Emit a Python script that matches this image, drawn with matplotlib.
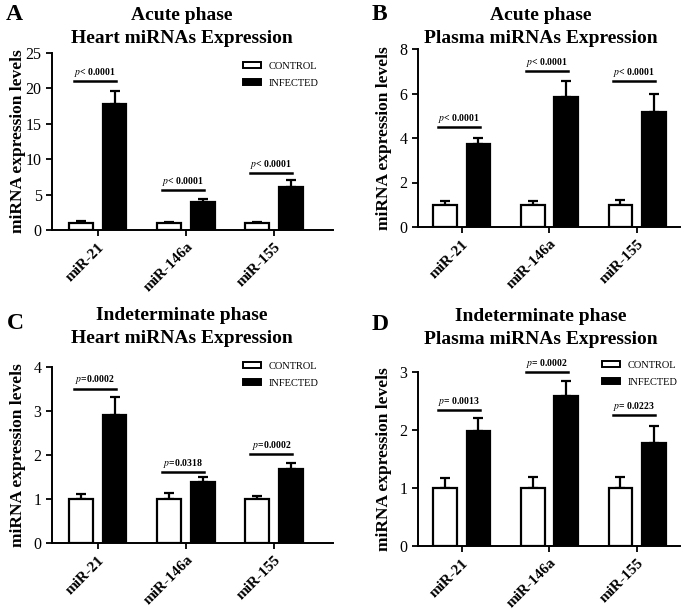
import numpy as np
import matplotlib
matplotlib.use('Agg')
import matplotlib.pyplot as plt
from matplotlib.patches import Patch

plt.rcParams['font.family'] = ['Liberation Serif', 'DejaVu Serif']
plt.rcParams['mathtext.fontset'] = 'stix'

# data
categories = ['miR-21', 'miR-146a', 'miR-155']

heart_acute_ctrl = [1.0, 1.0, 1.0]
heart_acute_ctrl_err = [0.3, 0.1, 0.1]
heart_acute_inf = [17.8, 4.0, 6.1]
heart_acute_inf_err = [1.9, 0.35, 0.9]
heart_acute_sig = [21.1, 5.7, 8.1]
heart_acute_p = ['< 0.0001', '< 0.0001', '< 0.0001']

plasma_acute_ctrl = [1.0, 1.0, 1.0]
plasma_acute_ctrl_err = [0.15, 0.15, 0.2]
plasma_acute_inf = [3.73, 5.83, 5.19]
plasma_acute_inf_err = [0.27, 0.74, 0.79]
plasma_acute_sig = [4.5, 7.0, 6.57]
plasma_acute_p = ['< 0.0001', '< 0.0001', '< 0.0001']

heart_indet_ctrl = [1.0, 1.0, 1.0]
heart_indet_ctrl_err = [0.12, 0.13, 0.06]
heart_indet_inf = [2.91, 1.38, 1.68]
heart_indet_inf_err = [0.4, 0.11, 0.13]
heart_indet_sig = [3.51, 1.62, 2.02]
heart_indet_p = ['=0.0002', '=0.0318', '=0.0002']

plasma_indet_ctrl = [1.0, 1.0, 1.0]
plasma_indet_ctrl_err = [0.17, 0.19, 0.19]
plasma_indet_inf = [1.98, 2.58, 1.78]
plasma_indet_inf_err = [0.22, 0.26, 0.29]
plasma_indet_sig = [2.34, 3.0, 2.26]
plasma_indet_p = ['= 0.0013', '= 0.0002', '= 0.0223']

W, H = 685, 611
fig = plt.figure(figsize=(W / 100, H / 100), dpi=100)


def px_axes(left, right, top, bottom):
    return fig.add_axes([left / W, 1 - bottom / H, (right - left) / W, (bottom - top) / H])


def panel(ax, ctrl, ctrl_err, inf, inf_err, sig, plabels, yticks, xlim, ylab_x, legend_pos=None):
    x = np.arange(len(categories))
    off, bw = 0.19, 0.27
    ax.bar(x - off, ctrl, bw, color='white', edgecolor='black', linewidth=1.6, zorder=2)
    ax.bar(x + off, inf, bw, color='black', edgecolor='black', linewidth=1.6, zorder=2)
    ax.errorbar(x - off, ctrl, yerr=[np.zeros(3), ctrl_err], fmt='none', ecolor='black',
                elinewidth=1.6, capsize=3.5, capthick=1.6, zorder=1)
    ax.errorbar(x + off, inf, yerr=[np.zeros(3), inf_err], fmt='none', ecolor='black',
                elinewidth=1.6, capsize=3.5, capthick=1.6, zorder=1)
    for xi, yi, lab in zip(x, sig, plabels):
        ax.plot([xi - 0.27, xi + 0.21], [yi, yi], color='black', lw=1.8, clip_on=False)
        ax.annotate(r'$\mathit{p}$' + lab, (xi - 0.03, yi), xytext=(0, 1.5),
                    textcoords='offset points', ha='center', va='bottom',
                    fontsize=7, fontweight='bold', annotation_clip=False)
    ax.set_xlim(*xlim)
    ax.set_ylim(0, yticks[-1])
    ax.set_yticks(yticks)
    ax.set_xticks(x)
    ax.set_xticklabels(categories, rotation=45, ha='right', rotation_mode='anchor',
                       fontsize=11, fontweight='bold')
    ax.tick_params(axis='y', labelsize=11.5, width=1.3, length=4)
    ax.tick_params(axis='x', width=1.3, length=4)
    for s in ['top', 'right']:
        ax.spines[s].set_visible(False)
    for s in ['left', 'bottom']:
        ax.spines[s].set_linewidth(1.4)
    ax.set_ylabel('miRNA expression levels', fontsize=12.5, fontweight='bold')
    ax.yaxis.set_label_coords(ylab_x, 0.5)
    if legend_pos is not None:
        handles = [Patch(facecolor='white', edgecolor='black', linewidth=1.4, label='CONTROL'),
                   Patch(facecolor='black', edgecolor='black', linewidth=1.4, label='INFECTED')]
        fig.legend(handles=handles, loc='upper left',
                   bbox_to_anchor=(legend_pos[0] / W, 1 - legend_pos[1] / H),
                   frameon=False, fontsize=7.5, handlelength=1.75, handleheight=0.5,
                   handletextpad=0.7, labelspacing=0.75, borderpad=0, borderaxespad=0)


axA = px_axes(52, 333, 53, 230)
panel(axA, heart_acute_ctrl, heart_acute_ctrl_err, heart_acute_inf, heart_acute_inf_err,
      heart_acute_sig, heart_acute_p, [0, 5, 10, 15, 20, 25], (-0.52, 2.67), -0.094, (243, 62))

axB = px_axes(418, 680, 49, 227)
panel(axB, plasma_acute_ctrl, plasma_acute_ctrl_err, plasma_acute_inf, plasma_acute_inf_err,
      plasma_acute_sig, plasma_acute_p, [0, 2, 4, 6, 8], (-0.5, 2.49), -0.099)

axC = px_axes(52, 333, 367, 543)
panel(axC, heart_indet_ctrl, heart_indet_ctrl_err, heart_indet_inf, heart_indet_inf_err,
      heart_indet_sig, heart_indet_p, [0, 1, 2, 3, 4], (-0.52, 2.67), -0.094, (243, 362))

axD = px_axes(418, 680, 372, 546)
panel(axD, plasma_indet_ctrl, plasma_indet_ctrl_err, plasma_indet_inf, plasma_indet_inf_err,
      plasma_indet_sig, plasma_indet_p, [0, 1, 2, 3], (-0.5, 2.49), -0.099, (602, 361))

titles = [('Acute phase\nHeart miRNAs Expression', 182, 27),
          ('Acute phase\nPlasma miRNAs Expression', 541, 27),
          ('Indeterminate phase\nHeart miRNAs Expression', 182, 327),
          ('Indeterminate phase\nPlasma miRNAs Expression', 541, 328)]
for t, tx, ty in titles:
    fig.text(tx / W, 1 - ty / H, t, ha='center', va='center', fontsize=14,
             fontweight='bold', linespacing=1.4)

letters = [('A', 14, 15), ('B', 379, 15), ('C', 15, 323), ('D', 380, 324)]
for t, tx, ty in letters:
    fig.text(tx / W, 1 - ty / H, t, ha='center', va='center', fontsize=17, fontweight='bold')

fig.savefig('out.png', dpi=100)
